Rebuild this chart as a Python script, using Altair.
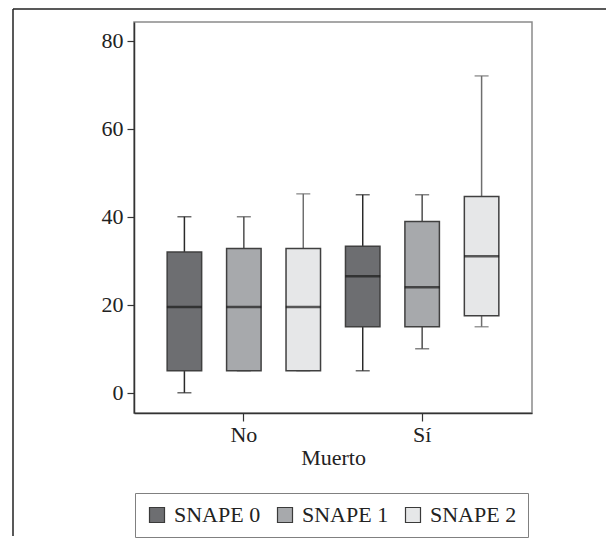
import altair as alt
import pandas as pd

# ---- data ----
muerto = ["No", "No", "No", "Sí", "Sí", "Sí"]
snape = ["SNAPE 0", "SNAPE 1", "SNAPE 2", "SNAPE 0", "SNAPE 1", "SNAPE 2"]
whisker_low = [0, 5, 5, 5, 10, 15]
q1 = [5, 5, 5, 15, 15, 17.5]
median = [19.5, 19.5, 19.5, 26.5, 24, 31]
q3 = [32, 32.8, 32.8, 33.3, 38.9, 44.6]
whisker_high = [40, 40, 45.2, 45, 45, 72]

groups = ["SNAPE 0", "SNAPE 1", "SNAPE 2"]
x_order = ["No", "Sí"]
y_ticks = [0, 20, 40, 60, 80]

fills = ["#6d6e71", "#a7a9ac", "#e6e7e8"]
strokes = ["#2a2a2a", "#4f4f4f", "#6e6e6e"]

df = pd.DataFrame(dict(Muerto=muerto, SNAPE=snape, lo=whisker_low, q1=q1,
                       med=median, q3=q3, hi=whisker_high))

FONT = "Liberation Serif, Times New Roman, serif"

yscale = alt.Scale(domain=[-4.6, 84.25], nice=False, zero=False)

base = alt.Chart(df).encode(
    x=alt.X("Muerto:N", sort=x_order,
            scale=alt.Scale(paddingInner=0, paddingOuter=0.116),
            axis=alt.Axis(title="Muerto", labelAngle=0, tickSize=8,
                          labelPadding=3, titlePadding=2)),
    xOffset=alt.XOffset("SNAPE:N", sort=groups,
                        scale=alt.Scale(paddingInner=0, paddingOuter=0)),
)

layers = []
for g, col in zip(groups, strokes):
    sub = base.transform_filter(alt.datum.SNAPE == g)
    layers.append(sub.mark_rule(strokeWidth=1.5, color=col).encode(
        y=alt.Y("lo:Q", scale=yscale,
                axis=alt.Axis(values=y_ticks, title=None, tickSize=7, labelPadding=4)),
        y2="hi:Q"))
    layers.append(sub.mark_tick(size=14, thickness=1.5, color=col).encode(
        y=alt.Y("lo:Q", title=None)))
    layers.append(sub.mark_tick(size=14, thickness=1.5, color=col).encode(
        y=alt.Y("hi:Q", title=None)))

box = base.mark_bar(size=34.5, strokeWidth=1.5, stroke="#404040").encode(
    y=alt.Y("q1:Q", title=None),
    y2="q3:Q",
    fill=alt.Fill("SNAPE:N", sort=groups,
                  scale=alt.Scale(domain=groups, range=fills),
                  legend=alt.Legend(title=None, orient="none", legendX=1, legendY=471,
                                    direction="horizontal", columns=3,
                                    symbolType="square", symbolSize=225,
                                    symbolStrokeColor="#3a3a3a", symbolStrokeWidth=1.2,
                                    labelFont=FONT, labelFontSize=22, labelColor="#222",
                                    labelOffset=6, columnPadding=13, padding=11,
                                    strokeColor="#808080", fillColor="white")),
)

med_tick = base.mark_tick(size=35, thickness=2.5, color="#1a1a1a").encode(
    y=alt.Y("med:Q", title=None))

frame_data = alt.Data(values=[{"k": 1}])
frame_left = alt.Chart(frame_data).mark_rule(color="#222", strokeWidth=1.5).encode(
    x=alt.value(-121), y=alt.value(-13), y2=alt.value(514))
frame_top = alt.Chart(frame_data).mark_rule(color="#222", strokeWidth=1.5).encode(
    x=alt.value(-121), x2=alt.value(472), y=alt.value(-13))

chart = alt.layer(frame_left, frame_top, *layers, box, med_tick).properties(
    width=398, height=391,
    padding={"left": 4, "top": 0, "right": 0, "bottom": 0},
).configure_view(
    stroke="#8a8a8a", strokeWidth=1.5
).configure_axis(
    domainColor="#333", domainWidth=1.5, tickColor="#333", tickWidth=1.2,
    labelFont=FONT, labelFontSize=22, labelColor="#222",
    titleFont=FONT, titleFontSize=22, titleFontWeight="normal", titleColor="#222",
    grid=False,
)

chart.save("out.html", embed_options={"renderer": "svg", "actions": False})
